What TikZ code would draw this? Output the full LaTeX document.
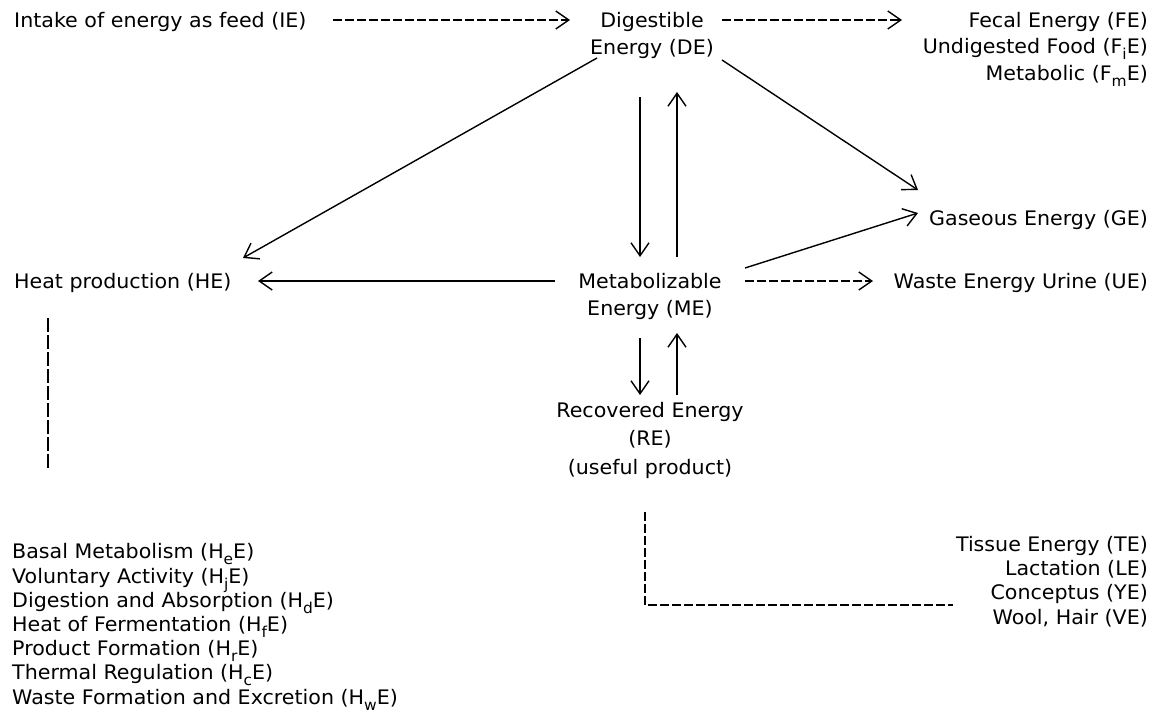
\documentclass[tikz,border=0pt]{standalone}
\usepackage{fontspec}
\setmainfont[FakeStretch=1.03]{DejaVu Sans}
\usetikzlibrary{arrows.meta,calc}
\newcommand\lowsub[1]{\raisebox{-0.3em}{\fontsize{15}{15}\selectfont #1}}
\newcommand\tightls{\lineskiplimit=-50pt\relax}
\begin{document}
\begin{tikzpicture}[x=1pt,y=-1pt,
  txt/.style={inner sep=0pt, font=\fontsize{20}{24.3}\selectfont\tightls},
  two/.style={inner sep=0pt, align=center, font=\fontsize{20}{27}\selectfont\tightls},
  con/.style={line width=1.4pt},
  arr/.style={con,-{Straight Barb[length=13pt,width=18pt,line width=1.4pt]}},
  dsh/.style={dash pattern=on 9pt off 3pt},
  ldsh/.style={dash pattern=on 14pt off 3pt}]
\useasboundingbox[fill=white] (0,0) rectangle (1162,713);

% nodes (multi-line nodes are placed by the baseline of their last line)
\node[txt,anchor=base west] (IE) at (14,27) {Intake of energy as feed (IE)};
\node[two,anchor=base] (DE) at (652,54) {Digestible\\Energy (DE)};
\node[txt,align=right,anchor=base east,font=\fontsize{20}{26.5}\selectfont\tightls] (FE) at (1148,80)
  {Fecal Energy (FE)\\Undigested Food (F\lowsub{i}E)\\Metabolic (F\lowsub{m}E)};
\node[txt,anchor=base east] (GE) at (1148,225) {Gaseous Energy (GE)};
\node[txt,anchor=base west] (HE) at (14,288) {Heat production (HE)};
\node[two,anchor=base] (ME) at (650,315) {Metabolizable\\Energy (ME)};
\node[txt,anchor=base east] (UE) at (1148,288) {Waste Energy Urine (UE)};
\node[two,anchor=base,font=\fontsize{20}{28.5}\selectfont\tightls] (RE) at (650,474) {Recovered Energy\\(RE)\\(useful product)};
\node[txt,align=left,anchor=base west,font=\fontsize{20}{24.2}\selectfont\tightls] (HL) at (12,704)
  {Basal Metabolism (H\lowsub{e}E)\\Voluntary Activity (H\lowsub{j}E)\\Digestion and Absorption (H\lowsub{d}E)\\Heat of Fermentation (H\lowsub{f}E)\\Product Formation (H\lowsub{r}E)\\Thermal Regulation (H\lowsub{c}E)\\Waste Formation and Excretion (H\lowsub{w}E)};
\node[txt,align=right,anchor=base east] (PL) at (1148,624)
  {Tissue Energy (TE)\\Lactation (LE)\\Conceptus (YE)\\Wool, Hair (VE)};

% connectors
\draw[arr,dsh] ($(IE.base west)+(319,-7)$) -- ($(DE.base)+(-82,-34)$);
\draw[arr,dsh] ($(DE.base)+(70,-34)$) -- ($(FE.base east)+(-246,-60)$);
\draw[arr] ($(DE.base)+(-55,4)$) -- ($(HE.base west)+(229,-30)$);
\draw[arr] ($(DE.base)+(70,6)$) -- ($(GE.base east)+(-230,-35)$);
\draw[arr] ($(DE.base)+(-12,43)$) -- ($(ME.base)+(-10,-58)$);
\draw[arr] ($(ME.base)+(27,-58)$) -- ($(DE.base)+(25,38)$);
\draw[arr] ($(ME.base)+(-95,-34)$) -- ($(HE.base west)+(244,-7)$);
\draw[arr] ($(ME.base)+(95,-47)$) -- ($(GE.base east)+(-230,-12)$);
\draw[arr,dsh] ($(ME.base)+(95,-34)$) -- ($(UE.base east)+(-275,-7)$);
\draw[arr] ($(ME.base)+(-10,23)$) -- ($(RE.base)+(-10,-79)$);
\draw[arr] ($(RE.base)+(27,-79)$) -- ($(ME.base)+(27,18)$);
\draw[con,ldsh] ($(HE.base west)+(34,30)$) -- ($(HL.base west)+(36,-236)$);
\draw[con,dsh] ($(RE.base)+(-5,38)$) |- ($(PL.base east)+(-195,-19)$);
\end{tikzpicture}
\end{document}
